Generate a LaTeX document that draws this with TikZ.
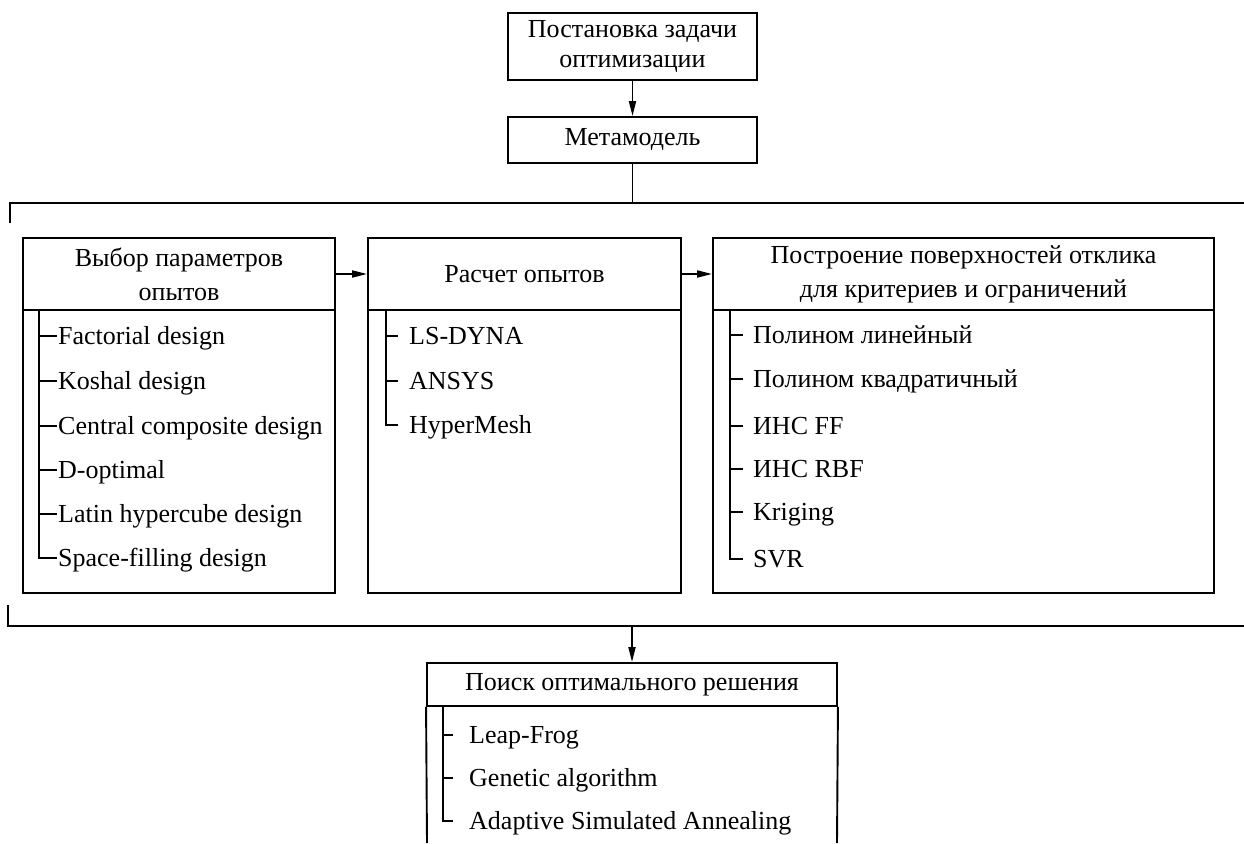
\documentclass[tikz,border=0pt]{standalone}
\usepackage{fontspec}
\setmainfont{Liberation Serif}
\usetikzlibrary{arrows.meta,calc}
\tikzset{
  box/.style={draw, line width=1.9pt, rectangle, inner sep=0pt, align=center,
    font=\fontsize{26}{32}\selectfont},
  item/.style={anchor=base west, inner sep=0pt, font=\fontsize{26}{32}\selectfont},
  tree/.style={line width=1.7pt},
  conn/.style={line width=1.9pt},
  arr/.style={line width=1.9pt, -{Triangle[length=15pt,width=7pt]}}
}
\begin{document}
\begin{tikzpicture}[x=1pt,y=-1pt]
\useasboundingbox (0,0) rectangle (1244,843);

% top
\node[box, minimum width=249pt, minimum height=67pt] (task) at (632.5,46.5) {Постановка задачи\\[-2pt]оптимизации};
\node[box, minimum width=249pt, minimum height=46pt] (meta) at (632.5,140) {Метамодель};
\draw[arr] (task) -- (meta);

% upper bracket
\coordinate (bt) at (632.5,203);
\coordinate (btl) at (10,203);
\coordinate (btr) at (1244,203);
\coordinate (btd) at (10,223);
\draw[conn] (meta) -- (bt);
\draw[conn] (btd) -- (btl) -- (btr);

% three boxes
\node[box, minimum width=312pt, minimum height=72pt] (h1) at (179,274) {Выбор параметров\\[2pt]опытов};
\node[box, minimum width=312pt, minimum height=283pt, anchor=north] (b1) at (179,309) {};
\node[box, minimum width=313pt, minimum height=72pt] (h2) at (524.5,274) {Расчет опытов};
\node[box, minimum width=313pt, minimum height=283pt, anchor=north] (b2) at (524.5,309) {};
\node[box, minimum width=501pt, minimum height=72pt] (h3) at (963.5,274) {Построение поверхностей отклика\\[2pt]для критериев и ограничений};
\node[box, minimum width=501pt, minimum height=283pt, anchor=north] (b3) at (963.5,309) {};
\draw[arr] (h1) -- (h2);
\draw[arr] (h2) -- (h3);

% tree 1
\foreach \t/\y [count=\i] in {Factorial design/344,Koshal design/389,Central composite design/434,D-optimal/478,Latin hypercube design/522,Space-filling design/566}{
  \node[item] (a\i) at (58,\y) {\t};
  \draw[tree] (39,\y-8) -- ($(a\i.base west)+(-1,-8)$);
}
\coordinate (t1) at (39,309);
\draw[tree] (t1) -- (39,558.8);

% tree 2
\foreach \t/\y [count=\i] in {LS-DYNA/344,ANSYS/389,HyperMesh/433}{
  \node[item] (c\i) at (409,\y) {\t};
  \draw[tree] (386,\y-8) -- ($(c\i.base west)+(-11,-8)$);
}
\coordinate (t2) at (386,309);
\draw[tree] (t2) -- (386,425.8);

% tree 3
\foreach \t/\y [count=\i] in {Полином линейный/343,Полином квадратичный/387,ИНС FF/434,ИНС RBF/477,Kriging/520,SVR/567}{
  \node[item] (d\i) at (753,\y) {\t};
  \draw[tree] (730,\y-8) -- ($(d\i.base west)+(-10,-8)$);
}
\coordinate (t3) at (730,309);
\draw[tree] (t3) -- (730,559.8);

% lower bracket
\coordinate (bb) at (632,626);
\coordinate (bbl) at (8,626);
\coordinate (bbr) at (1244,626);
\coordinate (bbu) at (8,605);
\draw[conn] (bbu) -- (bbl) -- (bbr);

% bottom box
\node[box, minimum width=410pt, minimum height=43pt] (h4) at (632,684.5) {Поиск оптимального решения};
\draw[arr] (bb) -- (h4);
\coordinate (l4) at (427,843);
\coordinate (r4) at (837,843);
\draw[conn] (h4.south west) -- (l4);
\draw[conn] (h4.south east) -- (r4);

\foreach \t/\y [count=\i] in {Leap-Frog/743,Genetic algorithm/786,Adaptive Simulated Annealing/829}{
  \node[item] (e\i) at (469,\y) {\t};
  \draw[tree] (443,\y-8) -- ($(e\i.base west)+(-16,-8)$);
}
\coordinate (t4) at (443,706);
\draw[tree] (t4) -- (443,821.8);
\end{tikzpicture}
\end{document}
